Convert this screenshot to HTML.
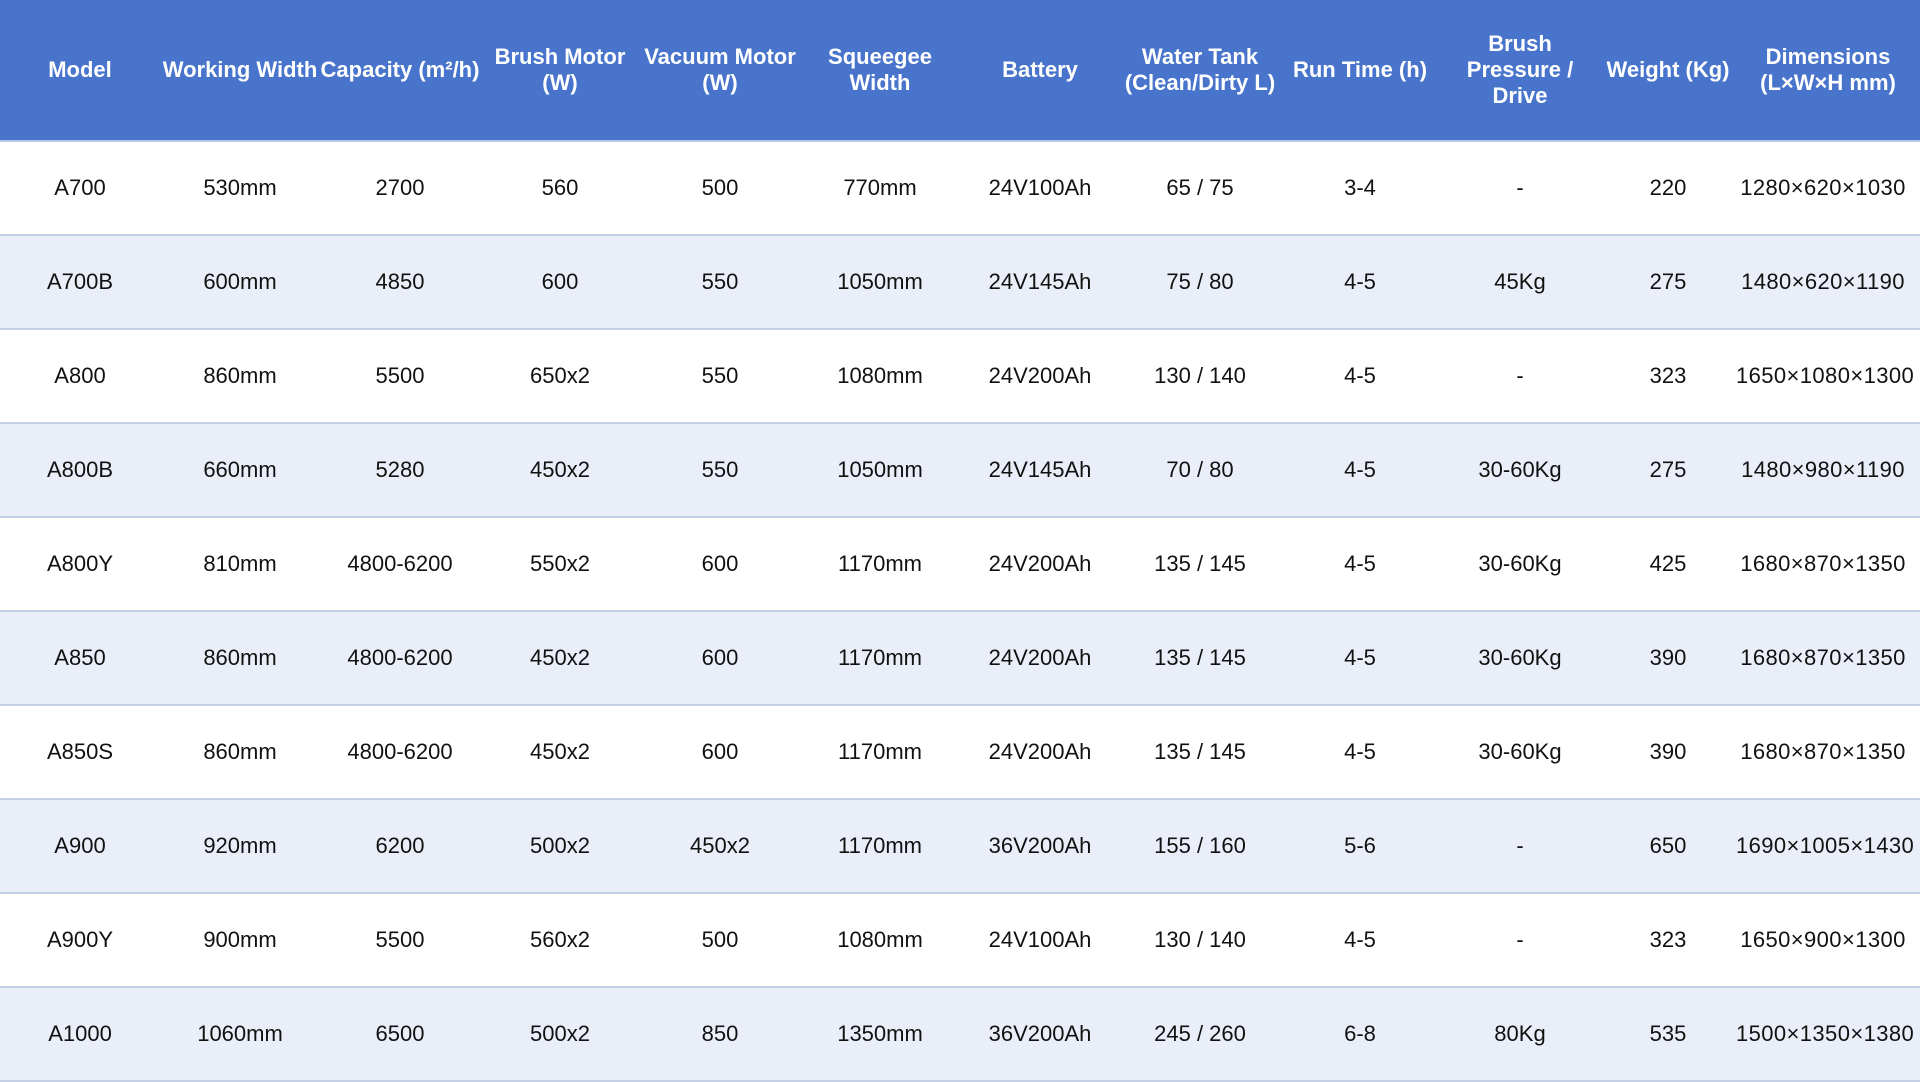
<!DOCTYPE html>
<html><head><meta charset="utf-8"><style>
body{margin:0;width:1920px;height:1080px;overflow:hidden;background:#fff;font-family:"Liberation Sans",Arial,sans-serif;}
table{border-collapse:collapse;width:1920px;table-layout:fixed;}
th{background:#4874cb;color:#fff;font-weight:bold;font-size:22px;line-height:26px;height:140px;padding:0;text-align:center;}
td{height:92px;font-size:22px;color:#111;text-align:center;padding:0;border-bottom:2px solid #c4cfe6;white-space:nowrap;}
td:last-child{padding-right:10px;letter-spacing:0.4px;}
tr.alt td{background:#eaeef9;}
thead tr{border-bottom:2px solid #b8c8ea;}
</style></head><body>
<table>
<colgroup><col style="width:160px"><col style="width:160px"><col style="width:160px"><col style="width:160px"><col style="width:160px"><col style="width:160px"><col style="width:160px"><col style="width:160px"><col style="width:160px"><col style="width:160px"><col style="width:136px"><col style="width:184px"></colgroup>
<thead><tr><th>Model</th><th style="white-space:nowrap">Working Width</th><th style="white-space:nowrap">Capacity (m²/h)</th><th>Brush Motor<br>(W)</th><th>Vacuum Motor<br>(W)</th><th>Squeegee<br>Width</th><th>Battery</th><th>Water Tank<br>(Clean/Dirty L)</th><th>Run Time (h)</th><th>Brush<br>Pressure /<br>Drive</th><th>Weight (Kg)</th><th>Dimensions<br>(L×W×H mm)</th></tr></thead>
<tbody>
<tr><td>A700</td><td>530mm</td><td>2700</td><td>560</td><td>500</td><td>770mm</td><td>24V100Ah</td><td>65 / 75</td><td>3-4</td><td>-</td><td>220</td><td>1280×620×1030</td></tr>
<tr class="alt"><td>A700B</td><td>600mm</td><td>4850</td><td>600</td><td>550</td><td>1050mm</td><td>24V145Ah</td><td>75 / 80</td><td>4-5</td><td>45Kg</td><td>275</td><td>1480×620×1190</td></tr>
<tr><td>A800</td><td>860mm</td><td>5500</td><td>650x2</td><td>550</td><td>1080mm</td><td>24V200Ah</td><td>130 / 140</td><td>4-5</td><td>-</td><td>323</td><td>1650×1080×1300</td></tr>
<tr class="alt"><td>A800B</td><td>660mm</td><td>5280</td><td>450x2</td><td>550</td><td>1050mm</td><td>24V145Ah</td><td>70 / 80</td><td>4-5</td><td>30-60Kg</td><td>275</td><td>1480×980×1190</td></tr>
<tr><td>A800Y</td><td>810mm</td><td>4800-6200</td><td>550x2</td><td>600</td><td>1170mm</td><td>24V200Ah</td><td>135 / 145</td><td>4-5</td><td>30-60Kg</td><td>425</td><td>1680×870×1350</td></tr>
<tr class="alt"><td>A850</td><td>860mm</td><td>4800-6200</td><td>450x2</td><td>600</td><td>1170mm</td><td>24V200Ah</td><td>135 / 145</td><td>4-5</td><td>30-60Kg</td><td>390</td><td>1680×870×1350</td></tr>
<tr><td>A850S</td><td>860mm</td><td>4800-6200</td><td>450x2</td><td>600</td><td>1170mm</td><td>24V200Ah</td><td>135 / 145</td><td>4-5</td><td>30-60Kg</td><td>390</td><td>1680×870×1350</td></tr>
<tr class="alt"><td>A900</td><td>920mm</td><td>6200</td><td>500x2</td><td>450x2</td><td>1170mm</td><td>36V200Ah</td><td>155 / 160</td><td>5-6</td><td>-</td><td>650</td><td>1690×1005×1430</td></tr>
<tr><td>A900Y</td><td>900mm</td><td>5500</td><td>560x2</td><td>500</td><td>1080mm</td><td>24V100Ah</td><td>130 / 140</td><td>4-5</td><td>-</td><td>323</td><td>1650×900×1300</td></tr>
<tr class="alt"><td>A1000</td><td>1060mm</td><td>6500</td><td>500x2</td><td>850</td><td>1350mm</td><td>36V200Ah</td><td>245 / 260</td><td>6-8</td><td>80Kg</td><td>535</td><td>1500×1350×1380</td></tr>
</tbody></table>
</body></html>
